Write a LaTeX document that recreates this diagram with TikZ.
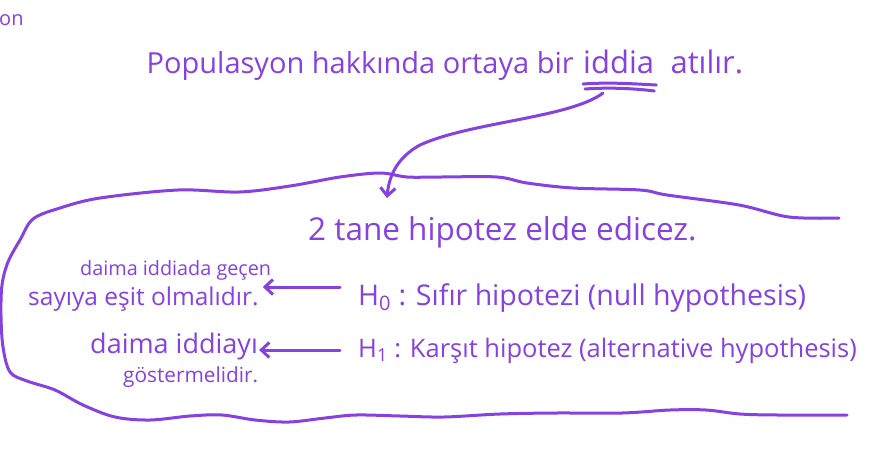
\documentclass[tikz,border=0pt]{standalone}
\usepackage{fontspec}
\setmainfont{Open Sans}
\usetikzlibrary{arrows.meta,positioning}
\definecolor{penInk}{RGB}{134,66,224}
\newcommand\handsize[1]{\fontsize{#1}{#1}\selectfont}

\begin{document}
\begin{tikzpicture}[
  x=1pt,y=-1pt,
  pen/.style={draw=penInk,line width=3pt,line cap=round,line join=round},
  arrow/.style={pen,-{Straight Barb[length=8pt,width=15pt]}},
  hand/.style={text=penInk,inner sep=0pt,anchor=base west}
]
\fill[white] (0,0) rectangle (870,448);
\useasboundingbox (0,0) rectangle (870,448);

\node[hand,font=\handsize{20}] (corner) at (-1,25) {on};

% the claim, with its key word underlined twice
\node[hand,font=\handsize{31}] (claimWord) at (583,73) {iddia};
\node[hand,font=\handsize{29},anchor=base east] (claimHead) at ([xshift=-9pt]claimWord.base west) {Populasyon hakkında ortaya bir};
\node[hand,font=\handsize{31}] (claimEnd) at ([xshift=16pt]claimWord.base east) {atılır.};
\draw[pen] ([yshift=-11pt]claimWord.base west) .. controls +(27,-2) and +(-20,-1) .. ([xshift=2pt,yshift=-12pt]claimWord.base east);
\draw[pen] ([xshift=2pt,yshift=-16pt]claimWord.base west) .. controls +(27,-2) and +(-15,-2) .. ([yshift=-18pt]claimWord.base east);

\node[hand,font=\handsize{31.5}] (two) at (308,240) {2 tane hipotez elde edicez.};

\node[hand,font=\handsize{28.5}] (h0) at (358,305) {H\textsubscript{0} : Sıfır hipotezi (null hypothesis)};
\node[hand,font=\handsize{25.5}] (h1) at (358,357) {H\textsubscript{1} : Karşıt hipotez (alternative hypothesis)};

\node[hand,font=\handsize{19.8}] (n0a) at (80,275) {daima iddiada geçen};
\node[hand,font=\handsize{24.5}] (n0b) at (28,305) {sayıya eşit olmalıdır.};
\node[hand,font=\handsize{27}] (n1a) at (90,353) {daima iddiayı};
\node[hand,font=\handsize{20.8}] (n1b) at (123,382) {göstermelidir.};

% claim leads down into the two hypotheses
\coordinate (claimRoot) at ([xshift=20pt,yshift=-20pt]claimWord.base west);
\coordinate (claimTip) at (387,198);
\draw[arrow] (claimRoot) .. controls (570,118) and (470,122) .. (420,145)
  .. controls (398,157) and (389,175) .. (claimTip);

\draw[arrow,shorten <=18pt,shorten >=4pt] ([yshift=18pt]h0.base west) -- ([yshift=18pt]h0.base west -| n0b.east);
\draw[arrow,shorten <=18pt,shorten >=1pt] ([yshift=7pt]h1.base west) -- ([yshift=7pt]h1.base west -| n1a.east);

% hand drawn enclosure
\draw[pen] plot[smooth,tension=0.55] coordinates {
  (839,218) (789,217) (739,205) (667,195) (640,190) (573,188) (527,183)
  (497,177) (440,177) (407,177) (380,173) (340,177) (290,186) (239,192)
  (178,190) (100,198) (60,208) (33,219) (20,240) (8,262) (2,285) (1,315)
  (3,347) (10,372) (27,381) (55,390) (83,405) (115,417) (150,420) (190,416)
  (222,415) (255,420) (289,422) (325,418) (356,415) (400,416) (444,417)
  (500,414) (556,413) (622,413) (670,410) (706,410) (740,414) (778,415) (847,415)};

\end{tikzpicture}
\end{document}
